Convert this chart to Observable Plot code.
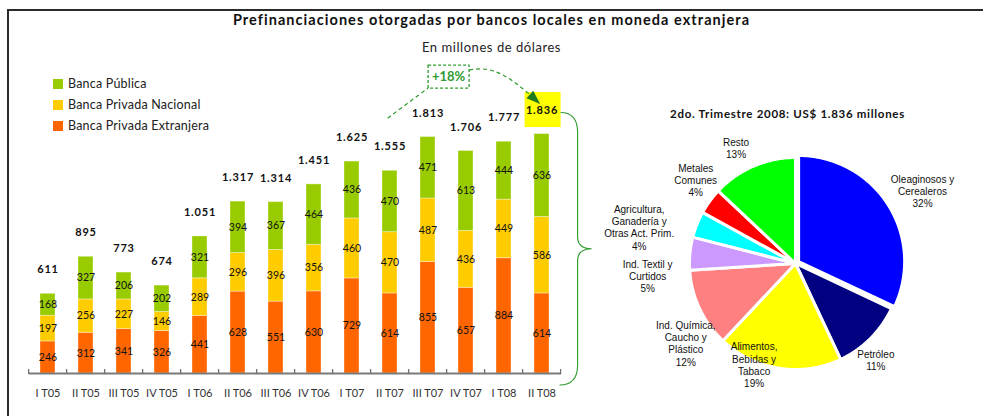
<!DOCTYPE html>
<html>
<head>
<meta charset="utf-8">
<script src="https://cdn.jsdelivr.net/npm/d3@7"></script>
<script src="https://cdn.jsdelivr.net/npm/@observablehq/plot@0.6"></script>
<style>
  body { margin: 0; background: #fff; }
  #wrap { position: relative; width: 983px; height: 416px; overflow: hidden; font-family: Lato, sans-serif; background: #fff; }
  .frameTop { position: absolute; left: 7px; top: 9px; width: 976px; height: 2px; background: #2a2a2a; }
  .frameLeft { position: absolute; left: 7px; top: 9px; width: 2px; height: 407px; background: #2a2a2a; }
  #title { position: absolute; top: 11px; left: 0; width: 983px; text-align: center; font-weight: bold; font-size: 14.5px; letter-spacing: 1.05px; color: #111; line-height: 18px; }
  #subtitle { position: absolute; top: 38px; left: 0; width: 983px; text-align: center; font-size: 13px; color: #222; line-height: 18px; letter-spacing: 0.55px; }
  #legend { position: absolute; left: 53px; top: 73px; font-size: 12.5px; color: #222; letter-spacing: 0.2px; }
  #legend .item { display: flex; align-items: center; height: 21px; }
  #legend .sw { width: 10px; height: 10px; margin-right: 5px; }
  #bars { position: absolute; left: 0; top: 60px; width: 600px; height: 356px; }
  #pie { position: absolute; left: 600px; top: 60px; width: 383px; height: 356px; }
  #pietitle { position: absolute; left: 596px; top: 107px; width: 383px; text-align: center; font-weight: bold; font-size: 11.5px; color: #111; letter-spacing: 0.7px; }
  #bars svg text.tot { letter-spacing: 0.8px; }
</style>
</head>
<body>
<div id="wrap">
  <div class="frameTop"></div>
  <div class="frameLeft"></div>
  <div id="title"></div>
  <div id="subtitle"></div>
  <div id="legend"></div>
  <div id="bars"></div>
  <div id="pie"></div>
  <div id="pietitle"></div>
</div>
<script>
// ---------- DATA ----------
const titleText = "Prefinanciaciones otorgadas por bancos locales en moneda extranjera";
const subtitleText = "En millones de dólares";
const quarters = ["I T05","II T05","III T05","IV T05","I T06","II T06","III T06","IV T06","I T07","II T07","III T07","IV T07","I T08","II T08"];
const extranjera = [246,312,341,326,441,628,551,630,729,614,855,657,884,614];
const nacional   = [197,256,227,146,289,296,396,356,460,470,487,436,449,586];
const publica    = [168,327,206,202,321,394,367,464,436,470,471,613,444,636];
const totals     = [611,895,773,674,1051,1317,1314,1451,1625,1555,1813,1706,1777,1836];
const seriesNames = ["Banca Pública","Banca Privada Nacional","Banca Privada Extranjera"];
const growthLabel = "+18%";

const pieTitle = "2do. Trimestre 2008: US$ 1.836 millones";
const sectors = ["Oleaginosos y\nCerealeros","Petróleo","Alimentos,\nBebidas y\nTabaco","Ind. Química,\nCaucho y\nPlástico","Ind. Textil y\nCurtidos","Agricultura,\nGanadería y\nOtras Act. Prim.","Metales\nComunes","Resto"];
const shares = [32,11,19,12,5,4,4,13];

// ---------- STYLE / LAYOUT ----------
const seriesColors = ["#99CC00","#FFCC00","#FF6600"];
const sectorColors = ["#0000FF","#000080","#FFFF00","#FF8080","#CC99FF","#00FFFF","#FF0000","#00FF00"];
const labelNudge = [[5,-3],[-13,9],[-20,-33],[21,22],[-4,25],[-15,14],[5,-7],[-10,-2]];
const GREEN = "#2F9A2F";

const fmt = d3.formatLocale({decimal: ",", thousands: ".", grouping: [3], currency: ["$", ""]}).format(",d");

document.getElementById("title").textContent = titleText;
document.getElementById("subtitle").textContent = subtitleText;
document.getElementById("pietitle").textContent = pieTitle;
const leg = d3.select("#legend");
seriesNames.forEach((s, i) => {
  const it = leg.append("div").attr("class", "item");
  it.append("div").attr("class", "sw").style("background", seriesColors[i]);
  it.append("span").text(s);
});

// ---------- BAR CHART ----------
const rows = [];
quarters.forEach((q, i) => {
  rows.push({q, series: seriesNames[2], value: extranjera[i]});
  rows.push({q, series: seriesNames[1], value: nacional[i]});
  rows.push({q, series: seriesNames[0], value: publica[i]});
});
const totalRows = quarters.map((q, i) => ({q, total: totals[i]}));
const n = quarters.length;

function bandGeom(scales) {
  const x = scales.x;
  const step = x(quarters[1]) - x(quarters[0]);
  const bw = step * 0.4;
  return {x, y: scales.y, step, bw, cx: i => x(quarters[i]) + bw / 2};
}

const axisTicks = (index, scales) => {
  const {x, y, step} = bandGeom(scales);
  const g = d3.create("svg:g").attr("stroke", "#6f6f6f").attr("stroke-width", 1.3);
  const y0 = y(0);
  for (let i = 0; i <= n; i++) {
    const bx = (i < n ? x(quarters[i]) : x(quarters[n - 1]) + step) - step * 0.3;
    g.append("line").attr("x1", bx).attr("x2", bx).attr("y1", y0 - 4).attr("y2", y0 + 1);
  }
  return g.node();
};

const highlight = (index, scales) => {
  const {y, cx} = bandGeom(scales);
  const lx = cx(n - 1), ly = y(totals[n - 1]) - 24;
  const g = d3.create("svg:g");
  g.append("rect").attr("x", lx - 17).attr("y", ly - 17.5).attr("width", 36).attr("height", 35).attr("fill", "#FFFF00");
  return g.node();
};

const annotate = (index, scales) => {
  const {y, cx} = bandGeom(scales);
  const g = d3.create("svg:g").attr("fill", "none");
  const lx = cx(n - 1), ly = y(totals[n - 1]) - 24;
  const bxc = (cx(10) + cx(11)) / 2 + 2, byc = y(totals[n - 1]) - 57;
  g.append("rect").attr("x", bxc - 20.5).attr("y", byc - 11.5).attr("width", 41).attr("height", 23)
    .attr("fill", "#fff").attr("stroke", GREEN).attr("stroke-width", 1.3).attr("stroke-dasharray", "3,2");
  g.append("text").attr("x", bxc).attr("y", byc).attr("dy", "0.36em").attr("text-anchor", "middle")
    .attr("fill", GREEN).attr("font-weight", "bold").attr("font-size", 13).attr("font-family", "Lato, sans-serif")
    .text(growthLabel);
  const sx = cx(9) - 2, sy = y(totals[9]) - 52;
  g.append("line").attr("x1", sx).attr("y1", sy).attr("x2", bxc - 20.5).attr("y2", byc + 11.5)
    .attr("stroke", GREEN).attr("stroke-width", 1.2).attr("stroke-dasharray", "4,3");
  const S = [bxc + 20.5, byc - 6.5];
  const T = [lx - 1.5, ly - 5.5];
  const c1 = [S[0] + 24, S[1] - 5], c2 = [T[0] - 30, T[1] - 28];
  g.append("path").attr("d", `M${S}C${c1} ${c2} ${T}`)
    .attr("stroke", GREEN).attr("stroke-width", 1.2).attr("stroke-dasharray", "4,3");
  const dx = T[0] - c2[0], dy = T[1] - c2[1], L = Math.hypot(dx, dy);
  const ux = dx / L, uy = dy / L;
  const bxA = T[0] - 14 * ux, byA = T[1] - 14 * uy;
  g.append("path").attr("d", `M${T}L${bxA - 5 * uy},${byA + 5 * ux}L${bxA + 5 * uy},${byA - 5 * ux}Z`)
    .attr("fill", "#1f7a1f");
  const x0 = lx + 19, x1 = x0 + 17, xt = x0 + 31;
  const yt = ly + 3, yb = y(0) + 12, ym = (yt + yb) / 2;
  g.append("path")
    .attr("d", `M${x0},${yt}C${x0 + 10},${yt} ${x1},${yt + 5} ${x1},${yt + 20}L${x1},${ym - 12}C${x1},${ym - 4} ${x1 + 5},${ym} ${xt},${ym}` +
               `M${xt},${ym}C${x1 + 5},${ym} ${x1},${ym + 4} ${x1},${ym + 12}L${x1},${yb - 20}C${x1},${yb - 5} ${x0 + 10},${yb} ${x0 - 1},${yb}`)
    .attr("stroke", GREEN).attr("stroke-width", 1.1);
  return g.node();
};

const barPlot = Plot.plot({
  width: 600, height: 356,
  marginLeft: 29, marginRight: 39, marginTop: 0, marginBottom: 43,
  x: {domain: quarters, paddingInner: 0.6, paddingOuter: 0.3, axis: null},
  y: {domain: [0, 2400], axis: null},
  color: {domain: seriesNames, range: seriesColors},
  style: {fontFamily: "Lato, sans-serif", overflow: "visible", background: "transparent"},
  marks: [
    Plot.barY(rows, {x: "q", y: "value", fill: "series", stroke: "#fff", strokeOpacity: 0.35, strokeWidth: 1}),
    Plot.text(rows, Plot.stackY({x: "q", y: "value", z: "series", text: d => fmt(d.value), fontSize: 10.5, fill: "#111"})),
    Plot.ruleY([0], {stroke: "#7a7a7a", strokeWidth: 2}),
    axisTicks,
    Plot.text(quarters, {x: d => d, y: () => 0, dy: 20, text: d => d, fontSize: 11, fill: "#333"}),
    highlight,
    annotate,
    Plot.text(totalRows, {x: "q", y: "total", dy: -24, text: d => fmt(d.total), fontSize: 11, fontWeight: "bold", fill: "#111", className: "tot"})
  ]
});
barPlot.querySelectorAll("g.tot text, .tot text").forEach(t => t.classList.add("tot"));
document.getElementById("bars").appendChild(barPlot);

// ---------- PIE CHART ----------
const R = 106, PW = 383, PH = 356, PCX = 195, PCY = 203;
const arcs = d3.pie().sort(null).value(d => d)(shares);
const piePts = [];
arcs.forEach((s, i) => {
  const ex = i === 0 ? 0.035 : 0;
  const mid = (s.startAngle + s.endAngle) / 2;
  const ox = ex * Math.sin(mid), oy = ex * Math.cos(mid);
  piePts.push({k: sectors[i], x: ox, y: oy});
  const steps = Math.max(2, Math.ceil((s.endAngle - s.startAngle) / 0.02));
  for (let j = 0; j <= steps; j++) {
    const a = s.startAngle + (s.endAngle - s.startAngle) * j / steps;
    piePts.push({k: sectors[i], x: ox + Math.sin(a), y: oy + Math.cos(a)});
  }
});
const labelRows = arcs.map((s, i) => {
  const mid = (s.startAngle + s.endAngle) / 2;
  const ux = Math.sin(mid), uy = Math.cos(mid);
  const lines = (sectors[i] + "\n" + shares[i] + "%").split("\n");
  const hw = d3.max(lines, l => l.length) * 5 / 2 / R;
  const hh = lines.length * 12 / 2 / R;
  const gap = 1 + 6 / R;
  return {
    text: lines.join("\n"),
    x: ux * gap + ux * hw + labelNudge[i][0] / R,
    y: uy * gap + uy * hh - labelNudge[i][1] / R
  };
});

const piePlot = Plot.plot({
  width: PW, height: PH, margin: 0,
  x: {domain: [-PCX / R, (PW - PCX) / R], axis: null},
  y: {domain: [-(PH - PCY) / R, PCY / R], axis: null},
  color: {domain: sectors, range: sectorColors},
  style: {fontFamily: "'Liberation Sans', Arial, sans-serif", overflow: "visible", background: "transparent"},
  marks: [
    Plot.line(piePts, {x: "x", y: "y", z: "k", fill: "k", stroke: "#fff", strokeWidth: 3, curve: "linear-closed"}),
    Plot.text(labelRows, {x: "x", y: "y", text: "text", fontSize: 10, lineHeight: 1.22, fill: "#111", textAnchor: "middle", lineAnchor: "middle"})
  ]
});
document.getElementById("pie").appendChild(piePlot);
</script>
</body>
</html>
